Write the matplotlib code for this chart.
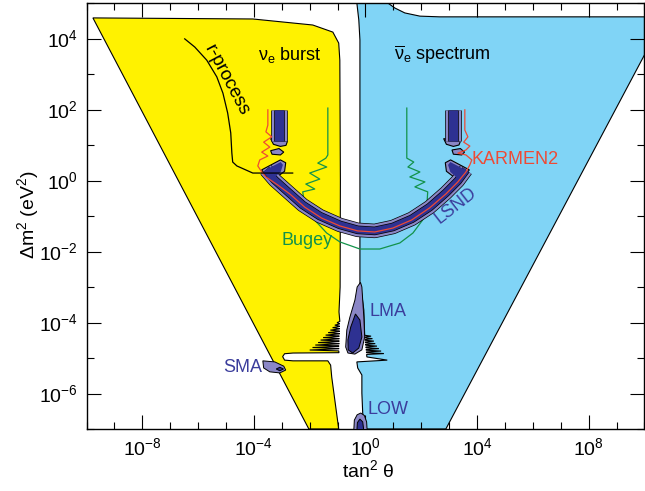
import numpy as np
import matplotlib
matplotlib.use('Agg')
import matplotlib.pyplot as plt
from matplotlib.ticker import FixedLocator, LogFormatterMathtext, NullFormatter

plt.rcParams['font.family'] = ['Liberation Sans', 'DejaVu Sans']
plt.rcParams['mathtext.fontset'] = 'custom'
plt.rcParams['mathtext.rm'] = 'Liberation Sans'
plt.rcParams['mathtext.it'] = 'Liberation Sans:italic'
plt.rcParams['mathtext.bf'] = 'Liberation Sans:bold'

# ---------------- data (log10 of tan^2 theta, log10 of dm^2 / eV^2) ----------------
yellow_lx = [-9.77, -4.04, -1.89, -1.17, -0.96, -0.92, -0.90, -0.91, -0.95, -0.92,
             -1.02, -0.94, -0.93, -1.10, -0.94, -0.93, -1.18, -0.94, -0.93, -1.26, -0.94,
             -0.93, -1.34, -0.94, -0.93, -1.43, -0.95, -0.94, -1.52, -0.95, -0.94, -1.61, -0.95,
             -0.94, -1.70, -0.95, -0.94, -1.80, -0.96, -0.95, -1.90, -0.96, -0.95, -2.00, -0.96,
             -0.95, -2.60, -2.90, -2.97, -2.90, -2.60, -1.35, -1.25, -1.21, -1.10, -0.96,
             -2.03]
yellow_ly = [4.58, 4.55, 4.38, 4.18, 3.87, 3.39, 0.00, -3.00, -3.70, -3.97,
             -4.005, -4.03, -4.04, -4.075, -4.10, -4.11, -4.145, -4.17, -4.18, -4.215, -4.24,
             -4.25, -4.285, -4.31, -4.32, -4.355, -4.38, -4.39, -4.425, -4.45, -4.46, -4.495, -4.52,
             -4.53, -4.565, -4.59, -4.60, -4.635, -4.66, -4.67, -4.705, -4.73, -4.74, -4.775, -4.80,
             -4.85, -4.86, -4.88, -4.96, -5.06, -5.08, -5.08, -5.20, -5.54, -6.18, -7.00,
             -7.00]

blue_lx = [-0.31, 0.80, 1.05, 1.41, 1.95, 2.66, 10.0, 10.0, 2.88, -0.03,
           -0.10, -0.13, -0.13, -0.28, -0.31,
           0.78, 0.05, 0.04, 0.66, 0.04, 0.03, 0.56, 0.03, 0.02, 0.48, 0.02, 0.01, 0.41, 0.01,
           0.00, 0.35, 0.00, -0.01, 0.30, -0.01, -0.02, 0.25, -0.02, -0.02, 0.20, -0.03,
           -0.06, -0.13, -0.20, -0.20, -0.24]
blue_ly = [5.00, 5.00, 4.86, 4.72, 4.63, 4.61, 4.61, 3.54, -7.00, -7.00,
           -6.55, -5.99, -5.48, -5.28, -5.11,
           -5.06, -4.97, -4.90, -4.875, -4.85, -4.83, -4.805, -4.78, -4.76, -4.735, -4.71, -4.69,
           -4.665, -4.64, -4.62, -4.595, -4.57, -4.55, -4.525, -4.50, -4.48, -4.455, -4.43,
           -4.41, -4.385, -4.36, -3.65, -3.23, -2.94, 3.96, 4.52]

# LSND allowed band (centre line), end hooks, large-dm^2 columns and islands
lsnd_lx = [-3.57, -3.25, -2.78, -2.25, -1.64, -0.92, -0.28, 0.33, 0.98, 1.66, 2.30, 2.88, 3.31, 3.60]
lsnd_ly = [0.30, 0.01, -0.32, -0.69, -1.00, -1.25, -1.39, -1.42, -1.31, -1.08, -0.75, -0.35, -0.01, 0.30]
hookL_lx = [-3.72, -3.05, -2.86, -2.90, -3.30, -3.55]
hookL_ly = [0.30, 0.58, 0.50, 0.26, 0.02, 0.10]
hookR_lx = [3.72, 3.05, 2.86, 2.90, 3.30, 3.55]
hookR_ly = [0.30, 0.58, 0.50, 0.26, 0.02, 0.10]
hookL_in_lx = [-3.53, -3.04, -2.96, -3.04, -3.29]
hookL_in_ly = [0.32, 0.52, 0.44, 0.24, 0.07]
hookR_in_lx = [3.53, 3.04, 2.96, 3.04, 3.29]
hookR_in_ly = [0.32, 0.52, 0.44, 0.24, 0.07]
col_lx = [-3.11, 3.13]
col_ly = [1.99, 1.10]
footL_lx = [-3.40, -2.80, -2.85, -3.05, -3.30]
footL_ly = [1.18, 1.10, 0.99, 0.96, 1.02]
footR_lx = [2.80, 3.40, 3.35, 3.15, 2.90]
footR_ly = [1.18, 1.10, 1.00, 0.96, 1.02]
islL_lx = [-3.40, -3.10, -2.93, -3.05, -3.35]
islL_ly = [0.84, 0.90, 0.80, 0.72, 0.74]
islR_lx = [3.10, 3.40, 3.55, 3.45, 3.15]
islR_ly = [0.86, 0.90, 0.80, 0.72, 0.74]

# KARMEN2 exclusion curve
karmen_lx = [-3.50, -3.50, -3.57, -3.36, -3.65, -3.43, -3.72, -3.50, -3.79, -3.86, -3.72, -3.57,
             -3.14, -2.71, -2.18, -1.57, -0.92, -0.28, 0.33, 0.98, 1.66, 2.30, 2.88, 3.31,
             3.60, 3.74, 3.81, 3.60, 3.31, 3.60, 3.74, 3.52, 3.67, 3.56, 3.56]
karmen_ly = [1.99, 1.56, 1.37, 1.23, 1.08, 0.94, 0.80, 0.69, 0.58, 0.41, 0.24, 0.10,
             -0.13, -0.38, -0.75, -1.06, -1.28, -1.42, -1.45, -1.34, -1.11, -0.77, -0.38, -0.04,
             0.24, 0.44, 0.58, 0.72, 0.77, 0.86, 0.97, 1.08, 1.23, 1.42, 1.99]

# Bugey exclusion curve
bugey_lx = [-1.35, -1.35, -1.42, -1.71, -1.39, -2.00, -1.64, -2.14, -1.82, -2.25,
            -2.18, -1.92, -1.39, -0.92, -0.20, 0.51, 1.23, 1.70, 2.05, 2.20, 2.23,
            1.77, 2.13, 1.59, 1.95, 1.52, 1.73, 1.48, 1.48]
bugey_ly = [2.04, 0.72, 0.63, 0.49, 0.38, 0.21, 0.04, -0.10, -0.24, -0.32,
            -0.69, -1.03, -1.48, -1.73, -1.93, -1.93, -1.76, -1.48, -1.11, -0.69, -0.32,
            -0.18, -0.04, 0.10, 0.24, 0.38, 0.52, 0.63, 2.04]

# r-process bound
rproc_lx = [-6.48, -6.12, -5.69, -5.33, -5.11, -4.94, -4.83, -4.79, -4.76, -4.61, -4.04, -2.61]
rproc_ly = [3.99, 3.76, 3.39, 2.92, 2.46, 1.90, 1.34, 0.77, 0.52, 0.41, 0.21, 0.21]

# solar solutions
lma_out_lx = [-0.18, -0.30, -0.38, -0.56, -0.67, -0.71, -0.63, -0.38, -0.13, -0.03, -0.06, -0.10, -0.13]
lma_out_ly = [-2.87, -3.00, -3.37, -3.85, -4.21, -4.69, -4.86, -4.89, -4.77, -4.41, -3.85, -3.37, -3.00]
lma_in_lx = [-0.36, -0.53, -0.63, -0.62, -0.46, -0.24, -0.13, -0.20]
lma_in_ly = [-3.76, -4.13, -4.49, -4.77, -4.86, -4.72, -4.41, -3.93]
sma_out_lx = [-3.68, -3.25, -2.93, -2.86, -3.07, -3.43, -3.65]
sma_out_ly = [-5.08, -5.11, -5.23, -5.34, -5.42, -5.39, -5.28]
sma_in_lx = [-3.20, -3.07, -2.94, -3.07]
sma_in_ly = [-5.31, -5.26, -5.31, -5.36]
low_out_lx = [-0.42, -0.40, -0.30, -0.17, -0.04, 0.04, 0.06]
low_out_ly = [-7.05, -6.75, -6.60, -6.55, -6.62, -6.80, -7.05]
low_in_lx = [-0.31, -0.29, -0.20, -0.10, -0.06]
low_in_ly = [-7.05, -6.82, -6.72, -6.80, -7.05]

x_major = [-8, -4, 0, 4, 8]
y_major = [-6, -4, -2, 0, 2, 4]

YELLOW = '#fff200'
BLUE = '#80d4f6'
LIGHT = '#8b87c6'
DARK = '#2e3192'
TXT = '#3b3d9c'
RED = '#ee4a35'
GREEN = '#12924a'


def P(lx, ly):
    return 10.0 ** np.asarray(lx, float), 10.0 ** np.asarray(ly, float)


fig = plt.figure(figsize=(6.45, 4.91), dpi=100)
ax = fig.add_axes([86.5 / 645, 1 - 429 / 491, (644.5 - 86.5) / 645, (429 - 3) / 491])
ax.set_xscale('log')
ax.set_yscale('log')

ax.fill(*P(yellow_lx, yellow_ly), facecolor=YELLOW, edgecolor='black', lw=0.8, zorder=1)
ax.fill(*P(blue_lx, blue_ly), facecolor=BLUE, edgecolor='black', lw=0.8, zorder=1)

ax.plot(*P(bugey_lx, bugey_ly), color=GREEN, lw=0.9, zorder=2)

# LSND
for hx, hy in [(hookL_lx, hookL_ly), (hookR_lx, hookR_ly), (footL_lx, footL_ly), (footR_lx, footR_ly),
               (islL_lx, islL_ly), (islR_lx, islR_ly)]:
    ax.fill(*P(hx, hy), facecolor=LIGHT, edgecolor='black', lw=0.8, zorder=3)
for lw, c in [(10.4, 'black'), (9.4, LIGHT), (6.2, 'black'), (5.2, DARK)]:
    ax.plot(*P(lsnd_lx, lsnd_ly), color=c, lw=lw, solid_capstyle='butt',
            solid_joinstyle='round', zorder=3)
for hx, hy in [(hookL_in_lx, hookL_in_ly), (hookR_in_lx, hookR_in_ly)]:
    ax.fill(*P(hx, hy), facecolor=DARK, edgecolor='none', zorder=3)
for lw, c in [(12.0, 'black'), (11.0, LIGHT), (7.6, 'black'), (6.6, DARK)]:
    for i in range(2):
        ax.plot(*P([col_lx[i], col_lx[i]], col_ly), color=c, lw=lw,
                solid_capstyle='butt', zorder=3)

ax.plot(*P(karmen_lx, karmen_ly), color=RED, lw=0.9, zorder=4)
ax.plot(*P(rproc_lx, rproc_ly), color='black', lw=0.9, zorder=4)

for (ox, oy, ix, iy) in [(lma_out_lx, lma_out_ly, lma_in_lx, lma_in_ly),
                         (sma_out_lx, sma_out_ly, sma_in_lx, sma_in_ly),
                         (low_out_lx, low_out_ly, low_in_lx, low_in_ly)]:
    ax.fill(*P(ox, oy), facecolor=LIGHT, edgecolor='black', lw=0.7, zorder=5)
    ax.fill(*P(ix, iy), facecolor=DARK, edgecolor='black', lw=0.7, zorder=5)

ax.set_xlim(1e-10, 1e10)
ax.set_ylim(1e-7, 1e5)

ax.xaxis.set_major_locator(FixedLocator(10.0 ** np.array(x_major, float)))
ax.xaxis.set_minor_locator(FixedLocator(10.0 ** np.arange(-10, 11, 1.0)))
ax.yaxis.set_major_locator(FixedLocator(10.0 ** np.array(y_major, float)))
ax.yaxis.set_minor_locator(FixedLocator(10.0 ** np.arange(-7, 6, 1.0)))
ax.xaxis.set_major_formatter(LogFormatterMathtext())
ax.yaxis.set_major_formatter(LogFormatterMathtext())
ax.xaxis.set_minor_formatter(NullFormatter())
ax.yaxis.set_minor_formatter(NullFormatter())
ax.tick_params(which='both', direction='in', top=True, right=True, labelsize=14, width=0.8)
ax.tick_params(which='major', length=10, pad=6)
ax.tick_params(which='minor', length=5)
for s in ax.spines.values():
    s.set_linewidth(1.0)

# labels
fs = 13
ax.text(*P(-2.71, 3.54), r'$\mathrm{\nu}_\mathrm{e}$ burst', fontsize=fs, ha='center', va='center', zorder=6)
ax.text(*P(2.74, 3.54), r'$\overline{\mathrm{\nu}}_\mathrm{e}$ spectrum', fontsize=fs, ha='center', va='center', zorder=6)
ax.text(*P(-4.98, 2.83), 'r-process', fontsize=13.5, ha='center', va='center', rotation=-62, zorder=6)
ax.text(*P(3.81, 0.58), 'KARMEN2', fontsize=fs, color=RED, ha='left', va='center', zorder=6)
ax.text(*P(3.22, -0.70), 'LSND', fontsize=fs, color=TXT, ha='center', va='center', rotation=38, zorder=6)
ax.text(*P(-2.10, -1.68), 'Bugey', fontsize=fs, color=GREEN, ha='center', va='center', zorder=6)
ax.text(*P(0.15, -3.68), 'LMA', fontsize=fs, color=TXT, ha='left', va='center', zorder=6)
ax.text(*P(-3.72, -5.28), 'SMA', fontsize=fs, color=TXT, ha='right', va='center', zorder=6)
ax.text(*P(0.08, -6.46), 'LOW', fontsize=fs, color=TXT, ha='left', va='center', zorder=6)

fig.text(28 / 645, 1 - 215 / 491, 'Δm$^2$ (eV$^2$)', rotation=90, fontsize=14, ha='center', va='center')
fig.text(368 / 645, 1 - 470 / 491, r'tan$^2$ $\mathrm{\theta}$', fontsize=14, ha='center', va='center')

fig.savefig('out.png', dpi=100)
